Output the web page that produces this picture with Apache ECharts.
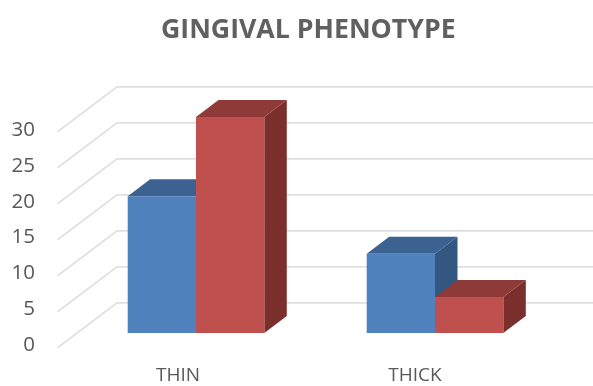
<!DOCTYPE html>
<html>
<head>
<meta charset="utf-8">
<style>html,body{margin:0;padding:0;background:#fff}#c{width:593px;height:386px;filter:blur(0.6px)}</style>
<script src="https://cdn.jsdelivr.net/npm/echarts@6/dist/echarts.min.js"></script>
</head>
<body>
<div id="c"></div>
<script>
const categories = ['THIN', 'THICK'];
const seriesA = [19, 11];
const seriesB = [30, 5];
const ticks = [0, 5, 10, 15, 20, 25, 30];
const titleText = 'GINGIVAL PHENOTYPE';

const FF = '"Open Sans", sans-serif';
const BAR_W = 68.3, DX = 22.5, DY = 17;

function barRenderer(offsetBars, front, top, side) {
  return function (params, api) {
    const base = api.coord([api.value(0), 0]);
    const head = api.coord([api.value(0), api.value(1)]);
    const x0 = base[0] + offsetBars * BAR_W, x1 = x0 + BAR_W;
    const yb = base[1], yt = head[1];
    const poly = (pts, fill) => ({ type: 'polygon', shape: { points: pts }, style: { fill: fill } });
    return {
      type: 'group',
      children: [
        poly([[x1, yb], [x1 + DX, yb - DY], [x1 + DX, yt - DY], [x1, yt]], side),
        poly([[x0, yt], [x0 + DX, yt - DY], [x1 + DX, yt - DY], [x1, yt]], top),
        poly([[x0, yb], [x1, yb], [x1, yt], [x0, yt]], front)
      ]
    };
  };
}

const chart = echarts.init(document.getElementById('c'), null, { renderer: 'canvas' });
chart.setOption({
  animation: false,
  backgroundColor: '#fff',
  title: {
    text: titleText, left: 156, top: 12,
    textStyle: { fontFamily: FF, fontSize: 26.7, fontWeight: 700, color: '#606060' }
  },
  grid: [
    { left: 59.5, top: 130, width: 474, height: 215 },
    { left: 76.5, top: 117, width: 478, height: 216 }
  ],
  xAxis: [
    { type: 'category', gridIndex: 0, data: categories,
      axisLine: { show: false }, axisTick: { show: false },
      axisLabel: { fontFamily: FF, fontSize: 19, color: '#595959', margin: 21 } },
    { type: 'category', gridIndex: 1, data: categories, show: false }
  ],
  yAxis: [
    { type: 'value', gridIndex: 0, min: 0, max: 30, interval: 5,
      axisLine: { show: false }, axisTick: { show: false }, splitLine: { show: false },
      axisLabel: { fontFamily: FF, fontSize: 20.5, color: '#595959', margin: 24.5 } },
    { type: 'value', gridIndex: 1, min: 0, max: 30, interval: 5, show: false, splitLine: { show: false } }
  ],
  series: [
    { type: 'custom', name: 'walls', xAxisIndex: 1, yAxisIndex: 1, z: 1, silent: true,
      data: ticks.map(v => [0, v]),
      renderItem: function (params, api) {
        const y = api.coord([0, api.value(1)])[1];
        const x = params.coordSys.x;
        const w = params.coordSys.width;
        return {
          type: 'polyline',
          shape: { points: [[x - 19, y + 14.7], [x + 40.5, y - 30.2], [x + 40.5 + w, y - 30.2]] },
          style: { fill: null, stroke: '#e0e0e0', lineWidth: 1.8 }
        };
      } },
    { type: 'custom', name: 'A', xAxisIndex: 1, yAxisIndex: 1, z: 2,
      data: categories.map((c, i) => [i, seriesA[i]]),
      renderItem: barRenderer(-1, '#4f81bd', '#3c6291', '#335780') },
    { type: 'custom', name: 'B', xAxisIndex: 1, yAxisIndex: 1, z: 3,
      data: categories.map((c, i) => [i, seriesB[i]]),
      renderItem: barRenderer(0, '#c0504d', '#8e3a38', '#7b2f2d') }
  ]
});
</script>
</body>
</html>
